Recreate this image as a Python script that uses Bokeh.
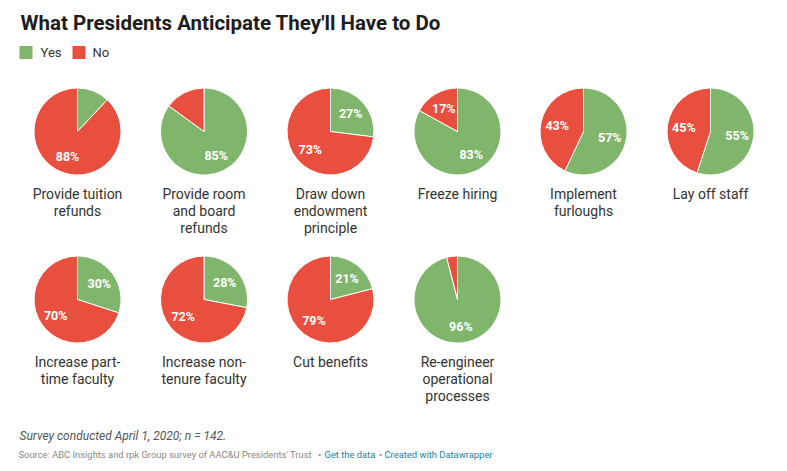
import math
from bokeh.plotting import figure
from bokeh.models import Range1d, ColumnDataSource
from bokeh.core.properties import value
from bokeh.embed import file_html
from bokeh.resources import INLINE

# ---- data ----
categories = [
    "Provide tuition\nrefunds",
    "Provide room\nand board\nrefunds",
    "Draw down\nendowment\nprinciple",
    "Freeze hiring",
    "Implement\nfurloughs",
    "Lay off staff",
    "Increase part-\ntime faculty",
    "Increase non-\ntenure faculty",
    "Cut benefits",
    "Re-engineer\noperational\nprocesses",
]
yes_values = [12, 85, 27, 83, 57, 55, 30, 28, 21, 96]
no_values = [88, 15, 73, 17, 43, 45, 70, 72, 79, 4]
series_names = ["Yes", "No"]

title_text = "What Presidents Anticipate They'll Have to Do"
note_text = "Survey conducted April 1, 2020; n = 142."
source_text = "Source: ABC Insights and rpk Group survey of AAC&U Presidents' Trust"
link1_text = "Get the data"
link2_text = "Created with Datawrapper"

# ---- style ----
GREEN = "#80b66b"
RED = "#e94f3e"
FONT = "Roboto"
W, H = 779, 463

p = figure(width=W, height=H, output_backend="svg", toolbar_location=None,
           x_range=Range1d(0, W), y_range=Range1d(471 - H, 471),
           min_border=0, min_border_left=0, min_border_right=0,
           min_border_top=0, min_border_bottom=0)
p.axis.visible = False
p.grid.visible = False
p.outline_line_color = None
p.background_fill_color = "white"
p.border_fill_color = "white"


def Y(py):
    return 471 - py


# layout
R = 43.5
col_x = [77, 203.5, 330, 457, 583, 710]
row_y = [131, 299]

ws = {"x": [], "y": [], "s": [], "e": [], "c": []}
lab = {"x": [], "y": [], "t": []}
cat = {"x": [], "y": [], "t": []}
for i, (c, yv, nv) in enumerate(zip(categories, yes_values, no_values)):
    cx = col_x[i % 6]
    cy = row_y[i // 6]
    tot = yv + nv
    a0 = math.pi / 2
    a1 = a0 - 2 * math.pi * yv / tot
    a2 = a0 - 2 * math.pi
    for (s, e, col, v) in [(a0, a1, GREEN, yv), (a1, a2, RED, nv)]:
        ws["x"].append(cx); ws["y"].append(Y(cy))
        ws["s"].append(s); ws["e"].append(e); ws["c"].append(col)
        if v >= 17:
            mid = (s + e) / 2
            rl = R * 0.62
            lab["x"].append(cx + rl * math.cos(mid))
            lab["y"].append(Y(cy) + rl * math.sin(mid))
            lab["t"].append(f"{v}%")
    for k, line in enumerate(c.split("\n")):
        cat["x"].append(cx)
        cat["y"].append(Y(cy + 62 + 17 * k))
        cat["t"].append(line)

p.wedge(x="x", y="y", radius=R, start_angle="s", end_angle="e",
        direction="clock", fill_color="c", line_color="white", line_width=1,
        source=ColumnDataSource(ws))
p.text(x="x", y="y", text="t", source=ColumnDataSource(lab),
       text_font=value(FONT), text_font_size="12.5px", text_font_style="bold",
       text_color="white", text_align="center", text_baseline="middle")
p.text(x="x", y="y", text="t", source=ColumnDataSource(cat),
       text_font=value(FONT), text_font_size="14px", text_color="#333333",
       text_align="center", text_baseline="middle")

# title
p.text(x=[20], y=[Y(22)], text=[title_text], text_font=value(FONT),
       text_font_size="20.5px", text_font_style="bold", text_color="#1d1d1d",
       text_baseline="middle")

# legend
leg_x = [19, 72]
leg_tx = [40, 92]
p.rect(x=[lx + 6.5 for lx in leg_x], y=[Y(52)] * 2, width=13, height=13,
       fill_color=[GREEN, RED], line_color=None)
p.text(x=leg_tx, y=[Y(52)] * 2, text=series_names, text_font=value(FONT),
       text_font_size="13px", text_color="#333333", text_baseline="middle")

# footer
p.text(x=[19], y=[Y(435)], text=[note_text], text_font=value(FONT),
       text_font_size="12px", text_font_style="italic", text_color="#555555",
       text_baseline="middle")
p.text(x=[18], y=[Y(454)], text=[source_text], text_font=value(FONT),
       text_font_size="9.4px", text_color="#888888", text_baseline="middle")
p.text(x=[319, 380], y=[Y(454)] * 2, text=["\u2022", "\u2022"],
       text_font=value(FONT), text_align="center",
       text_font_size="9.4px", text_color="#888888", text_baseline="middle")
p.text(x=[324], y=[Y(454)], text=[link1_text], text_font=value(FONT),
       text_font_size="9.4px", text_color="#1d81a2", text_baseline="middle")
p.text(x=[384], y=[Y(454)], text=[link2_text], text_font=value(FONT),
       text_font_size="9.4px", text_color="#1d81a2", text_baseline="middle")

open("out.html", "w").write(file_html(p, INLINE))
